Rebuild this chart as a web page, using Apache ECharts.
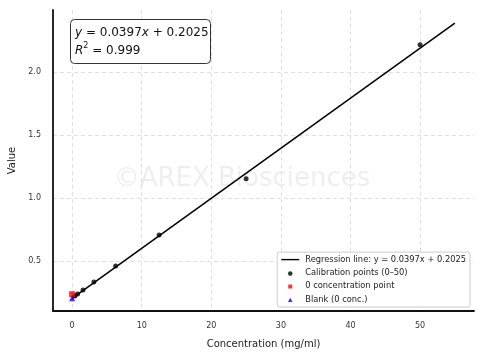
<!DOCTYPE html>
<html><head><meta charset="utf-8">
<script src="https://cdn.jsdelivr.net/npm/echarts@6/dist/echarts.min.js"></script>
<style>html,body{margin:0;padding:0;background:#fff}#c{width:484px;height:359px}</style>
</head><body><div id="c"></div>
<script>
const calibX = [0.390625, 0.78125, 1.5625, 3.125, 6.25, 12.5, 25, 50];
const calibY = [0.222, 0.238, 0.27, 0.333, 0.46, 0.706, 1.151, 2.214];
const zeroX = [0];
const zeroY = [0.236];
const blankX = [0];
const blankY = [0.204];
const slope = 0.0397;
const intercept = 0.2025;
const lineXs = [0, 55];
const xTicks = [0, 10, 20, 30, 40, 50];
const yTicks = [0.5, 1.0, 1.5, 2.0];

const font = 'DejaVu Sans';
const chart = echarts.init(document.getElementById('c'));
const gridLine = {show: true, lineStyle: {color: '#e0e0e0', type: [4, 3], width: 1}};
chart.setOption({
  animation: false,
  textStyle: {fontFamily: font},
  grid: {left: 53, right: 10, top: 10, bottom: 48, containLabel: false, outerBoundsMode: 'none'},
  xAxis: {
    type: 'value', min: -2.75, max: 57.75,
    name: 'Concentration (mg/ml)', nameLocation: 'middle', nameGap: 28,
    nameTextStyle: {fontSize: 10, color: '#222', fontFamily: font},
    axisLine: {show: true, onZero: false, lineStyle: {color: '#111', width: 1.8}},
    axisTick: {show: false, customValues: xTicks},
    axisLabel: {customValues: xTicks, fontSize: 8, color: '#333', margin: 11, fontFamily: font},
    splitLine: gridLine
  },
  yAxis: {
    type: 'value', min: 0.103, max: 2.49,
    name: 'Value', nameLocation: 'middle', nameGap: 34,
    nameTextStyle: {fontSize: 10, color: '#222', fontFamily: font},
    axisLine: {show: true, onZero: false, lineStyle: {color: '#111', width: 1.8}},
    axisTick: {show: false, customValues: yTicks},
    axisLabel: {customValues: yTicks, fontSize: 8, color: '#333', margin: 12, fontFamily: font,
      formatter: v => v.toFixed(1)},
    splitLine: gridLine
  },
  legend: {
    orient: 'vertical', right: 14, bottom: 52,
    backgroundColor: '#fff', borderColor: '#ccc', borderWidth: 1, borderRadius: 2,
    padding: [3, 4, 3, 3], itemGap: 4.3, itemWidth: 20, itemHeight: 9,
    textStyle: {fontSize: 8.3, color: '#222', fontFamily: font},
    data: [
      {name: 'Regression line: y = 0.0397x + 0.2025', icon: 'path://M0,0M20,9M1,3.8L19,3.8L19,5.2L1,5.2Z'},
      {name: 'Calibration points (0–50)', icon: 'path://M0,0M20,9M12.3,5.2A2.3,2.3,0,1,1,7.7,5.2A2.3,2.3,0,1,1,12.3,5.2Z'},
      {name: '0 concentration point', icon: 'path://M0,0M20,9M8,2.8L12,2.8L12,6.8L8,6.8Z'},
      {name: 'Blank (0 conc.)', icon: 'path://M0,0M20,9M10,2.8L12.3,7L7.7,7Z'}
    ]
  },
  graphic: [
    {type: 'text', left: 'center', top: 166, z: 0,
     style: {text: '©AREX Biosciences', fontSize: 26, fill: 'rgba(0,0,0,0.065)', fontFamily: font}},
    {type: 'rect', shape: {x: 70.5, y: 19.5, width: 140, height: 44, r: 4},
     style: {fill: '#fff', stroke: '#333', lineWidth: 1}, z: 10},
    {type: 'text', x: 75, y: 24, z: 11,
     style: {rich: {
        i: {fontStyle: 'italic', fontSize: 12, fontFamily: font, fill: '#111'},
        n: {fontSize: 12, fontFamily: font, fill: '#111'},
        s: {fontSize: 8, fontFamily: font, fill: '#111', verticalAlign: 'top', padding: [0,0,6,0]}
      },
      text: '{i|y}{n| = 0.0397}{i|x}{n| + 0.2025}\n{i|R}{s|2}{n| = 0.999}', lineHeight: 18}}
  ],
  series: [
    {name: 'Regression line: y = 0.0397x + 0.2025', type: 'line', showSymbol: false, symbol: 'none',
     data: lineXs.map(x => [x, intercept + slope * x]),
     lineStyle: {color: '#000', width: 1.5}, itemStyle: {color: '#000'}, z: 3},
    {name: 'Calibration points (0–50)', type: 'scatter', symbol: 'circle', symbolSize: 5,
     data: calibX.map((x, i) => [x, calibY[i]]), itemStyle: {color: '#000'}, z: 4},
    {name: '0 concentration point', type: 'scatter', symbol: 'rect', symbolSize: 6,
     data: zeroX.map((x, i) => [x, zeroY[i]]), itemStyle: {color: '#f00'}, z: 4},
    {name: 'Blank (0 conc.)', type: 'scatter', symbol: 'triangle', symbolSize: 6,
     data: blankX.map((x, i) => [x, blankY[i]]), itemStyle: {color: '#00f'}, z: 5}
  ]
});
</script></body></html>
